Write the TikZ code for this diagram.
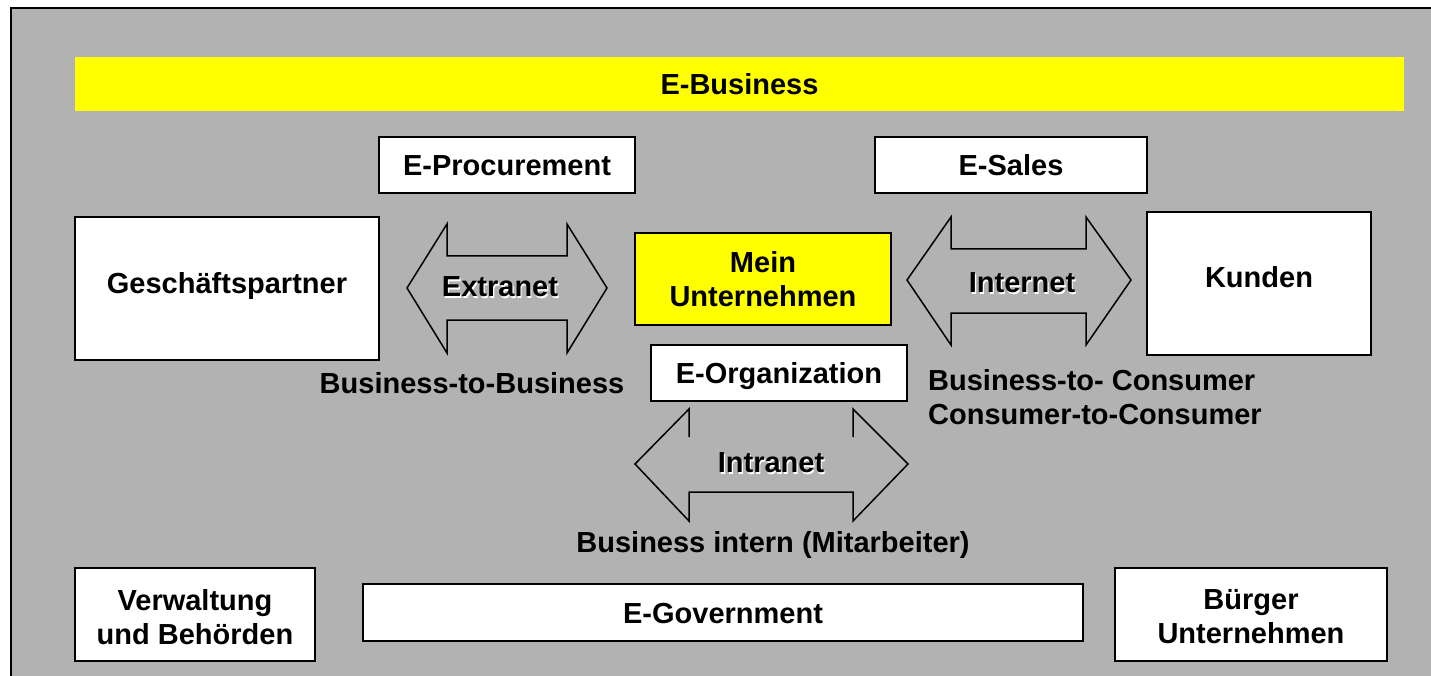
\documentclass[tikz,border=0pt]{standalone}
\usepackage{fontspec}
\setmainfont{Liberation Sans}
\definecolor{panelgray}{RGB}{178,178,178}
\definecolor{ebyellow}{RGB}{255,255,0}
\tikzset{
  txt/.style={font=\bfseries\fontsize{29}{34}\selectfont, align=center, inner sep=0pt},
  box/.style={txt, draw=black, line width=1.5pt, fill=white},
  onebox/.style={box, text height=21pt, text depth=0pt},
  ybox/.style={txt, draw=black, line width=1.5pt, fill=ebyellow},
  blockarrow/.style={draw=black, line width=1.5pt, line join=miter},
  shade/.style={txt, text=white}
}
\begin{document}
\begin{tikzpicture}[x=1pt,y=-1pt]
\useasboundingbox (0,0) rectangle (1431,676);
\fill[white] (0,0) rectangle (1431,676);
\fill[panelgray] (11,8) rectangle (1431,676);
\draw[black, line width=2.2pt] (11,676) -- (11,8) -- (1431,8);

% E-Business bar
\node[txt, fill=ebyellow, minimum width=1329pt, minimum height=54pt] (ebiz) at (739.5,84) {E-Business};

% top boxes
\node[onebox, minimum width=256pt, minimum height=56pt] (eproc) at (507,165) {E-Procurement};
\node[onebox, minimum width=272pt, minimum height=56pt] (esales) at (1011,165) {E-Sales};

% side boxes
\node[box, minimum width=304pt, minimum height=143pt, text depth=12pt] (partner) at (227,288.5) {Geschäftspartner};
\node[box, minimum width=224pt, minimum height=143pt, text depth=14pt] (kunden) at (1259,283.5) {Kunden};

% center
\node[ybox, minimum width=256pt, minimum height=92pt] (mein) at (763,279) {Mein\\Unternehmen};
\node[onebox, minimum width=256pt, minimum height=56pt] (eorg) at (779,373) {E-Organization};

% block arrows
\draw[blockarrow] (407,288) -- (447,224) -- (447,256) -- (567,256) -- (567,224) -- (607,288)
  -- (567,353) -- (567,320) -- (447,320) -- (447,353) -- cycle;
\draw[blockarrow] (907,280) -- (951,217) -- (951,249) -- (1086,249) -- (1086,217) -- (1131,280)
  -- (1086,345) -- (1086,313) -- (951,313) -- (951,345) -- cycle;
\draw[blockarrow] (689,437) -- (689,409) -- (635,464) -- (689,521) -- (689,492) -- (853,492)
  -- (853,521) -- (908,464) -- (853,409) -- (853,437);

% arrow labels with light shadow
\node[shade] (extranetS) at (501.2,288.2) {Extranet};
\node[txt] (extranet) at (500,287) {Extranet};
\node[shade] (internetS) at (1023.2,284.2) {Internet};
\node[txt] (internet) at (1022,283) {Internet};
\node[shade] (intranetS) at (772.2,464.2) {Intranet};
\node[txt] (intranet) at (771,463) {Intranet};

% free labels
\node[txt] (b2b) at (472,383) {Business-to-Business};
\node[txt, align=left, anchor=west] (b2c) at (928,397) {Business-to- Consumer\\Consumer-to-Consumer};
\node[txt] (intern) at (773,545) {Business intern (Mitarbeiter)};

% bottom row
\node[box, minimum width=240pt, minimum height=93pt] (verw) at (195,614.5) {\rule{0pt}{27pt}Verwaltung\\und Behörden};
\node[onebox, minimum width=720pt, minimum height=57pt] (egov) at (723,612.5) {E-Government};
\node[box, minimum width=272pt, minimum height=93pt] (buerger) at (1251,614.5) {\rule{0pt}{25pt}Bürger\\Unternehmen};
\end{tikzpicture}
\end{document}
